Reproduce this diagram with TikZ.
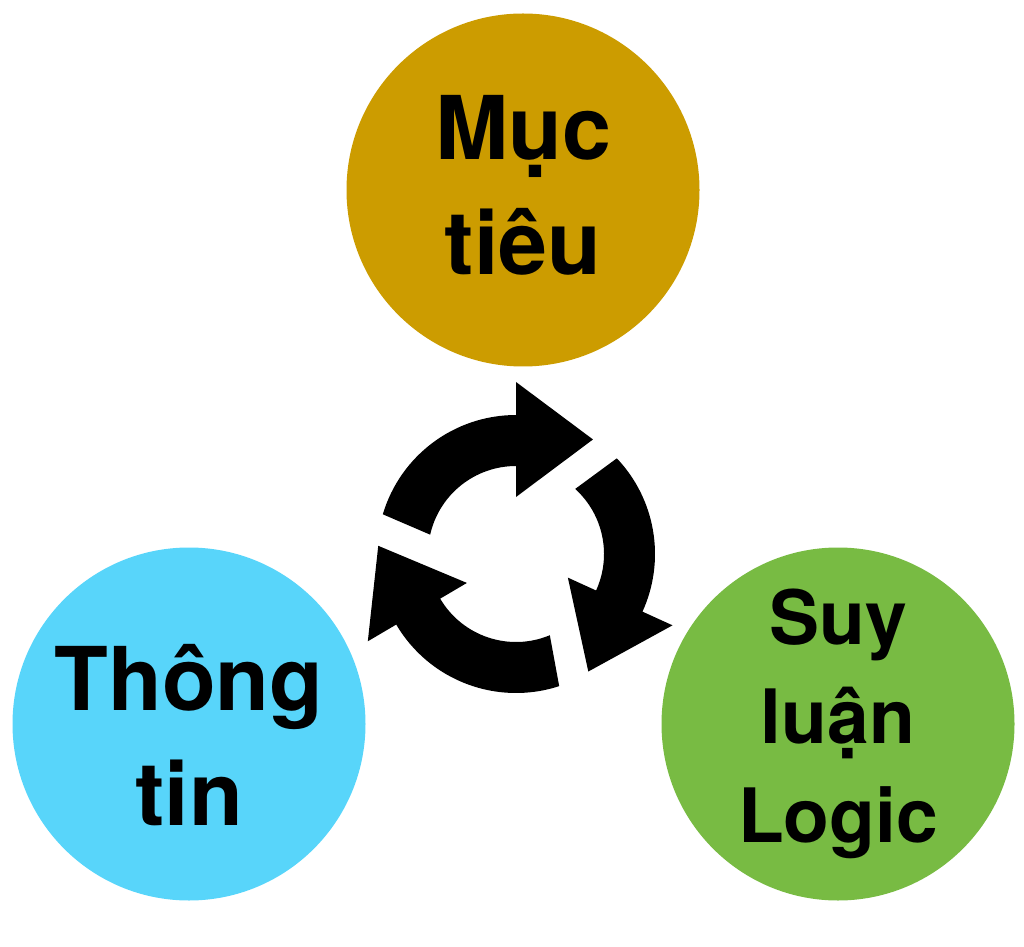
\documentclass[tikz,border=0pt]{standalone}
\usepackage{fontspec}
\setmainfont{TeX Gyre Heros}
\definecolor{goalgold}{RGB}{204,156,0}
\definecolor{infoblue}{RGB}{88,213,250}
\definecolor{logicgreen}{RGB}{120,187,67}

\begin{document}
\begin{tikzpicture}[x=1pt, y=1pt,
    bubble/.style={circle, inner sep=0pt, minimum size=353pt},
    caption/.style={inner sep=0pt, align=center}]

   \useasboundingbox (0,0) rectangle (1024,946);

   % the three circles and their words
   \foreach \x/\y/\fillc/\id/\dy/\fs/\ls/\lines in {523/756/goalgold/Goal/5/88/115/{Mục\\tiêu}, 189/222/infoblue/Info/-11/88/115/{Thông\\tin}, 838/222/logicgreen/Logic/0/75/99/{Suy\\luận\\Logic}}
   {
     \node [bubble, fill=\fillc] (v\id) at (\x,\y) {};
     \node [caption, font=\fontsize{\fs}{\ls}\selectfont\bfseries]
        (t\id) at ([yshift=\dy pt]v\id.center) {\lines};
   }

   % the cycle of three arrows in the middle
   \begin{scope}[shift={(516,392)}]
     \foreach \tout/\tinn/\head in {163.4/167.3/90, 43.5/47.7/-24.5, -71.9/-67.4/-149.5}
       \fill (\tout:139pt) arc[start angle=\tout, end angle=\head, radius=139pt]
          -- (\head:172pt) -- (\head-33.9:138pt) -- (\head:57pt) -- (\head:88pt)
          arc[start angle=\head, end angle=\tinn, radius=88pt] -- cycle;
   \end{scope}

\end{tikzpicture}
\end{document}
